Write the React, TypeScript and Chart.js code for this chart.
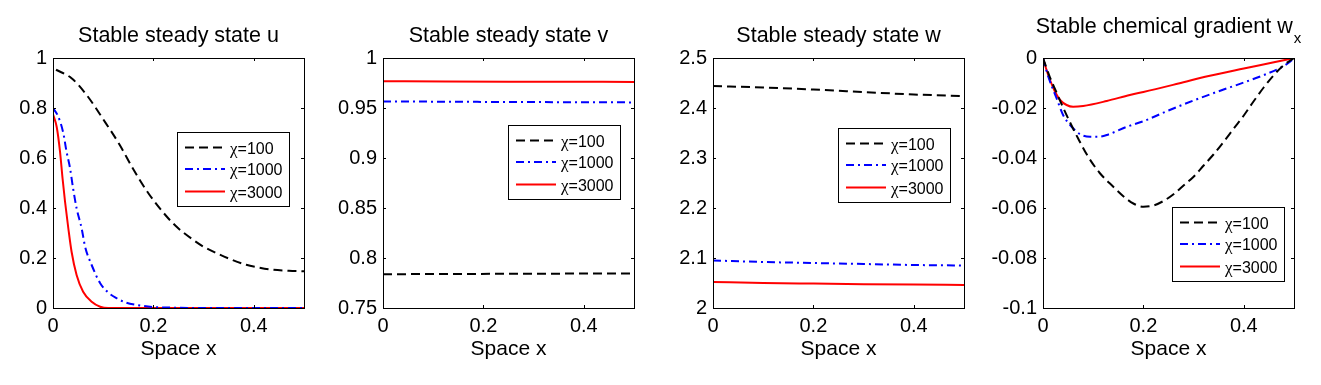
import React, { useEffect, useRef } from 'react';
import { Chart, registerables } from 'chart.js';

Chart.register(...registerables);

const FONT = '"Liberation Sans", Arial, Helvetica, sans-serif';
const SERIF = '"Liberation Serif", "Times New Roman", serif';

const seriesLabels = ['χ=100', 'χ=1000', 'χ=3000'];
const seriesColors = ['#000000', '#0000ff', '#ff0000'];

// x axis ticks (shared)
const xTicks = [0, 0.2, 0.4];
const xTickLabels = ['0', '0.2', '0.4'];

// Panel 1: u
const uX100 = [0.006, 0.037, 0.067, 0.1, 0.133, 0.16, 0.19, 0.226, 0.25, 0.279, 0.3, 0.325, 0.35, 0.385, 0.41, 0.438, 0.47, 0.5];
const uY100 = [0.953, 0.919, 0.852, 0.755, 0.652, 0.555, 0.459, 0.367, 0.318, 0.273, 0.245, 0.22, 0.198, 0.173, 0.162, 0.153, 0.149, 0.147];
const uX1000 = [0, 0.0106, 0.0206, 0.027, 0.034, 0.04, 0.047, 0.057, 0.064, 0.077, 0.094, 0.11, 0.127, 0.145, 0.167, 0.2, 0.25, 0.3, 0.4, 0.5];
const uY1000 = [0.8, 0.765, 0.699, 0.625, 0.559, 0.479, 0.399, 0.319, 0.245, 0.172, 0.099, 0.062, 0.039, 0.022, 0.012, 0.004, 0.001, 0, 0, 0];
const uX3000 = [0, 0.0073, 0.014, 0.019, 0.024, 0.0305, 0.037, 0.047, 0.06, 0.077, 0.094, 0.11, 0.2, 0.3, 0.4, 0.5];
const uY3000 = [0.775, 0.725, 0.625, 0.519, 0.425, 0.319, 0.225, 0.132, 0.065, 0.025, 0.005, 0, 0, 0, 0, 0];
const uYTicks = [0, 0.2, 0.4, 0.6, 0.8, 1];
const uYTickLabels = ['0', '0.2', '0.4', '0.6', '0.8', '1'];

// Panel 2: v
const vX = [0, 0.125, 0.25, 0.375, 0.5];
const vY100 = [0.7838, 0.784, 0.7842, 0.7844, 0.7845];
const vY1000 = [0.9566, 0.9563, 0.956, 0.9558, 0.9556];
const vY3000 = [0.9768, 0.9765, 0.9763, 0.9762, 0.9761];
const vYTicks = [0.75, 0.8, 0.85, 0.9, 0.95, 1];
const vYTickLabels = ['0.75', '0.8', '0.85', '0.9', '0.95', '1'];

// Panel 3: w
const wX = [0, 0.1, 0.2, 0.3, 0.4, 0.5];
const wY100 = [2.444, 2.441, 2.437, 2.432, 2.427, 2.424];
const wY1000 = [2.095, 2.092, 2.09, 2.088, 2.086, 2.085];
const wY3000 = [2.052, 2.05, 2.0488, 2.0477, 2.0468, 2.046];
const wYTicks = [2, 2.1, 2.2, 2.3, 2.4, 2.5];
const wYTickLabels = ['2', '2.1', '2.2', '2.3', '2.4', '2.5'];

// Panel 4: w_x
const gX100 = [0, 0.014, 0.027, 0.04, 0.054, 0.07, 0.09, 0.113, 0.14, 0.16, 0.18, 0.2, 0.22, 0.24, 0.26, 0.28, 0.3, 0.32, 0.34, 0.36, 0.38, 0.4, 0.42, 0.44, 0.46, 0.48, 0.5];
const gY100 = [0, -0.0078, -0.0138, -0.0198, -0.0258, -0.0322, -0.0395, -0.046, -0.0515, -0.0553, -0.0582, -0.0595, -0.059, -0.0572, -0.0545, -0.051, -0.0475, -0.043, -0.0385, -0.0335, -0.0282, -0.023, -0.0172, -0.0117, -0.0068, -0.0028, 0];
const gX1000 = [0, 0.0106, 0.027, 0.04, 0.054, 0.074, 0.094, 0.11, 0.127, 0.167, 0.2, 0.25, 0.3, 0.35, 0.4, 0.44, 0.47, 0.49, 0.5];
const gY1000 = [0, -0.0075, -0.0161, -0.0228, -0.0268, -0.0305, -0.0315, -0.0315, -0.0308, -0.0275, -0.0253, -0.021, -0.017, -0.0133, -0.0098, -0.0068, -0.0042, -0.0018, 0];
const gX3000 = [0, 0.005, 0.014, 0.024, 0.034, 0.047, 0.06, 0.08, 0.127, 0.173, 0.2, 0.27, 0.33, 0.4, 0.46, 0.5];
const gY3000 = [0, -0.0035, -0.0088, -0.0135, -0.0168, -0.0188, -0.0195, -0.0192, -0.0172, -0.0148, -0.0136, -0.0102, -0.0072, -0.0042, -0.0017, 0];
const gYTicks = [-0.1, -0.08, -0.06, -0.04, -0.02, 0];
const gYTickLabels = ['-0.1', '-0.08', '-0.06', '-0.04', '-0.02', '0'];

const dashes = [[9, 5], [8, 4, 2, 4], []];

type PanelCfg = {
  title: string;
  sub?: string;
  xs: number[][];
  ys: number[][];
  yMin: number;
  yMax: number;
  yTicks: number[];
  yTickLabels: string[];
  legendLeft: number;
  legendTop: number;
};

const panels: PanelCfg[] = [
  { title: 'Stable steady state u', xs: [uX100, uX1000, uX3000], ys: [uY100, uY1000, uY3000], yMin: 0, yMax: 1, yTicks: uYTicks, yTickLabels: uYTickLabels, legendLeft: 177, legendTop: 132 },
  { title: 'Stable steady state v', xs: [vX, vX, vX], ys: [vY100, vY1000, vY3000], yMin: 0.75, yMax: 1, yTicks: vYTicks, yTickLabels: vYTickLabels, legendLeft: 178, legendTop: 125 },
  { title: 'Stable steady state w', xs: [wX, wX, wX], ys: [wY100, wY1000, wY3000], yMin: 2, yMax: 2.5, yTicks: wYTicks, yTickLabels: wYTickLabels, legendLeft: 178, legendTop: 128 },
  { title: 'Stable chemical gradient w', sub: 'x', xs: [gX100, gX1000, gX3000], ys: [gY100, gY1000, gY3000], yMin: -0.1, yMax: 0, yTicks: gYTicks, yTickLabels: gYTickLabels, legendLeft: 182, legendTop: 207 },
];

const H = 385;
const PLOT_LEFT = 53;
const PLOT_RIGHT = 304;
const PLOT_TOP = 58;
const PLOT_BOTTOM = 308;

function labelFor(v: number, vals: number[], labels: string[]) {
  for (let i = 0; i < vals.length; i++) if (Math.abs(vals[i] - v) < 1e-9) return labels[i];
  return '';
}

const matlabPlugin = {
  id: 'matlab',
  afterDraw(chart: any, _args: any, opts: any) {
    const { ctx, chartArea: a } = chart;
    const xs = chart.scales.x;
    const ys = chart.scales.y;
    ctx.save();
    ctx.strokeStyle = '#000';
    ctx.lineWidth = 1;
    ctx.setLineDash([]);
    // box
    ctx.strokeRect(a.left + 0.5, a.top + 0.5, a.right - a.left, a.bottom - a.top);
    // inward ticks
    const TL = 3;
    ctx.beginPath();
    for (const v of xTicks) {
      const px = Math.round(xs.getPixelForValue(v)) + 0.5;
      ctx.moveTo(px, a.bottom);
      ctx.lineTo(px, a.bottom - TL);
      ctx.moveTo(px, a.top);
      ctx.lineTo(px, a.top + TL);
    }
    for (const v of opts.yTicks) {
      const py = Math.round(ys.getPixelForValue(v)) + 0.5;
      ctx.moveTo(a.left, py);
      ctx.lineTo(a.left + TL, py);
      ctx.moveTo(a.right, py);
      ctx.lineTo(a.right - TL, py);
    }
    ctx.stroke();

    // title
    ctx.fillStyle = '#000';
    ctx.textBaseline = 'alphabetic';
    ctx.textAlign = 'left';
    const cx = (a.left + a.right) / 2;
    ctx.font = `21.5px ${FONT}`;
    const mw = ctx.measureText(opts.title).width;
    let sw = 0;
    if (opts.sub) {
      ctx.font = `15px ${FONT}`;
      sw = ctx.measureText(opts.sub).width + 1;
    }
    const tx = cx - (mw + sw) / 2;
    const baseY = opts.sub ? 32.5 : 42;
    ctx.font = `21.5px ${FONT}`;
    ctx.fillText(opts.title, tx, baseY);
    if (opts.sub) {
      ctx.font = `15px ${FONT}`;
      ctx.fillText(opts.sub, tx + mw + 1, 42.5);
    }

    // x label
    ctx.font = `21px ${FONT}`;
    ctx.textAlign = 'center';
    ctx.fillText('Space x', cx, 355);

    // legend
    const lx = opts.legendLeft;
    const ly = opts.legendTop;
    const lw = 112;
    const lh = 74;
    ctx.fillStyle = '#fff';
    ctx.fillRect(lx, ly, lw, lh);
    ctx.strokeStyle = '#000';
    ctx.lineWidth = 1;
    ctx.strokeRect(lx + 0.5, ly + 0.5, lw, lh);
    const rows = [15.5, 37, 59.5];
    chart.data.datasets.forEach((ds: any, i: number) => {
      const ry = ly + rows[i];
      ctx.strokeStyle = ds.borderColor;
      ctx.lineWidth = 2;
      ctx.setLineDash(ds.borderDash || []);
      ctx.beginPath();
      ctx.moveTo(lx + 8, ry);
      ctx.lineTo(lx + 48, ry);
      ctx.stroke();
      ctx.setLineDash([]);
      ctx.fillStyle = '#000';
      ctx.textAlign = 'left';
      ctx.textBaseline = 'alphabetic';
      const label: string = ds.label;
      const first = label.slice(0, 1);
      const rest = label.slice(1);
      ctx.font = `17px ${SERIF}`;
      ctx.fillText(first, lx + 53, ry + 6);
      const fw = ctx.measureText(first).width;
      ctx.font = `16px ${FONT}`;
      ctx.fillText(rest, lx + 53 + fw, ry + 6);
    });
    ctx.restore();
  },
};

function Panel({ cfg, left, width }: { cfg: PanelCfg; left: number; width: number }) {
  const ref = useRef<HTMLCanvasElement>(null);
  useEffect(() => {
    const canvas = ref.current!;
    const chart = new Chart(canvas, {
      type: 'line',
      data: {
        datasets: cfg.xs.map((xarr, i) => ({
          label: seriesLabels[i],
          data: xarr.map((x, j) => ({ x, y: cfg.ys[i][j] })),
          borderColor: seriesColors[i],
          backgroundColor: seriesColors[i],
          borderWidth: 2,
          borderDash: dashes[i],
          pointRadius: 0,
          cubicInterpolationMode: 'monotone' as const,
          fill: false,
        })),
      },
      options: {
        responsive: false,
        animation: false,
        devicePixelRatio: 1,
        layout: { padding: { left: 0, top: PLOT_TOP, right: width - PLOT_RIGHT, bottom: 0 } },
        scales: {
          x: {
            type: 'linear',
            min: 0,
            max: 0.5,
            grid: { display: false, drawTicks: false },
            border: { display: false },
            ticks: {
              color: '#000',
              font: { family: FONT, size: 20 },
              padding: 6,
              autoSkip: false,
              maxRotation: 0,
              includeBounds: false,
              callback: (v: any) => labelFor(Number(v), xTicks, xTickLabels),
            },
            afterBuildTicks: (s: any) => {
              s.ticks = xTicks.map((v) => ({ value: v }));
            },
            afterFit: (s: any) => {
              s.height = H - PLOT_BOTTOM;
            },
          },
          y: {
            type: 'linear',
            min: cfg.yMin,
            max: cfg.yMax,
            grid: { display: false, drawTicks: false },
            border: { display: false },
            ticks: {
              color: '#000',
              font: { family: FONT, size: 20 },
              padding: 6,
              autoSkip: false,
              includeBounds: false,
              callback: (v: any) => labelFor(Number(v), cfg.yTicks, cfg.yTickLabels),
            },
            afterBuildTicks: (s: any) => {
              s.ticks = cfg.yTicks.map((v) => ({ value: v }));
            },
            afterFit: (s: any) => {
              s.width = PLOT_LEFT;
            },
          },
        },
        plugins: {
          legend: { display: false },
          tooltip: { enabled: false },
          // @ts-ignore
          matlab: {
            title: cfg.title,
            sub: cfg.sub,
            yTicks: cfg.yTicks,
            legendLeft: cfg.legendLeft,
            legendTop: cfg.legendTop,
          },
        },
      },
      plugins: [matlabPlugin],
    } as any);
    return () => chart.destroy();
  }, []);
  return (
    <canvas
      ref={ref}
      width={width}
      height={H}
      style={{ position: 'absolute', left, top: 0, width, height: H }}
    />
  );
}

export default function App() {
  return (
    <div style={{ position: 'absolute', left: 0, top: 0, width: 1321, height: H, background: '#fff' }}>
      {panels.map((p, i) => (
        <Panel key={i} cfg={p} left={i * 330} width={i === 3 ? 331 : 330} />
      ))}
    </div>
  );
}
